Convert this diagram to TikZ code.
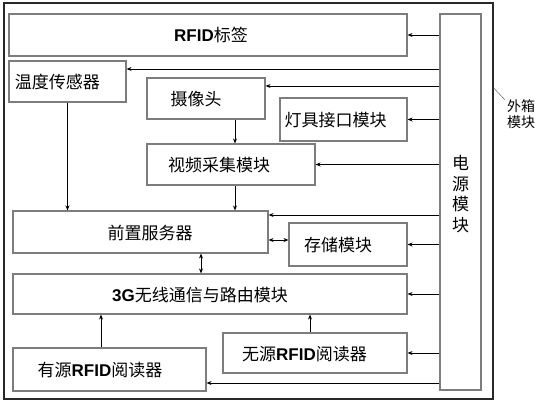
\documentclass[tikz,border=0pt]{standalone}
\usepackage{fontspec}
\setmainfont{Noto Sans CJK SC}
\newfontfamily\arb{Liberation Sans}
\usetikzlibrary{arrows.meta,fit}
\definecolor{boxgray}{RGB}{125,125,125}
\definecolor{casecol}{RGB}{40,40,40}
\begin{document}
\begin{tikzpicture}[x=1pt,y=-1pt,
  box/.style={draw=boxgray, line width=1.1pt, inner sep=0pt},
  casebox/.style={draw=casecol, line width=1.6pt, inner sep=0pt},
  arr/.style={-{Stealth[length=5pt,width=4pt]}, line width=0.9pt},
  darr/.style={{Stealth[length=5pt,width=4pt]}-{Stealth[length=5pt,width=4pt]}, line width=0.9pt},
  lbl/.style={font=\fontsize{17}{20}\selectfont, inner sep=0pt},
  vlbl/.style={font=\fontsize{17}{20.5}\selectfont, inner sep=0pt, align=center},
  slbl/.style={font=\fontsize{14}{16}\selectfont, inner sep=0pt, align=center}]
\fill[white] (0,0) rectangle (544,408);
\useasboundingbox (0,0) rectangle (544,408);

% boxes
\node[casebox, fit={(4,3) (493,399)}] (case) {};
\node[box, fit={(9,14) (407,56)}] (rfid) {};
\node[box, fit={(440,14) (481,390)}] (power) {};
\node[box, fit={(9,61) (126,102)}] (temp) {};
\node[box, fit={(147,78) (265,119)}] (cam) {};
\node[box, fit={(280,98) (407,141)}] (lamp) {};
\node[box, fit={(147,144) (315,185)}] (video) {};
\node[box, fit={(13,211) (268,253)}] (server) {};
\node[box, fit={(289,223) (407,266)}] (store) {};
\node[box, fit={(13,274) (407,314)}] (gthree) {};
\node[box, fit={(223,333) (407,373)}] (passive) {};
\node[box, fit={(13,348) (206,391)}] (active) {};

% texts
\node[lbl] (rfid-t) at (211,35) {{\arb\bfseries RFID}标签};
\node[lbl] (temp-t) at (57.5,82) {温度传感器};
\node[lbl] (cam-t) at (196,99) {摄像头};
\node[lbl] (lamp-t) at (335.5,120) {灯具接口模块};
\node[lbl] (video-t) at (219,165) {视频采集模块};
\node[lbl] (server-t) at (150,233) {前置服务器};
\node[lbl] (store-t) at (338,245) {存储模块};
\node[lbl] (gthree-t) at (200,295) {{\arb\bfseries 3G}无线通信与路由模块};
\node[lbl] (passive-t) at (304.5,354) {无源{\arb\bfseries RFID}阅读器};
\node[lbl] (active-t) at (100,370) {有源{\arb\bfseries RFID}阅读器};
\node[vlbl] (power-t) at (460.5,194) {电\\源\\模\\块};
\node[slbl] (case-t) at (521,114) {外箱\\模块};

% leader line
\coordinate (lead) at (505,100);
\draw[boxgray, line width=0.6pt] (case.east |- 0,88) -- (lead);

% helper coordinates
\coordinate (yTemp) at (0,69);
\coordinate (yCam) at (0,86);
\coordinate (yServ) at (0,215);
\coordinate (yAct) at (0,383);
\coordinate (yDbl) at (0,240);
\coordinate (xCam) at (235,0);
\coordinate (xDbl) at (201,0);
\coordinate (xPas) at (310,0);
\coordinate (xAct) at (101,0);

% power supply arrows
\draw[arr] (power.west |- rfid.east) -- (rfid.east);
\draw[arr] (power.west |- yTemp) -- (temp.east |- yTemp);
\draw[arr] (power.west |- yCam) -- (cam.east |- yCam);
\draw[arr] (power.west |- lamp.east) -- (lamp.east);
\draw[arr] (power.west |- video.east) -- (video.east);
\draw[arr] (power.west |- yServ) -- (server.east |- yServ);
\draw[arr] (power.west |- store.east) -- (store.east);
\draw[arr] (power.west |- gthree.east) -- (gthree.east);
\draw[arr] (power.west |- passive.east) -- (passive.east);
\draw[arr] (power.west |- yAct) -- (active.east |- yAct);

% data arrows
\draw[arr] (cam.south -| xCam) -- (video.north -| xCam);
\draw[arr] (temp.south) -- (temp.south |- server.north);
\draw[arr] (video.south -| xCam) -- (server.north -| xCam);
\draw[darr] (server.east |- yDbl) -- (store.west |- yDbl);
\draw[darr] (server.south -| xDbl) -- (gthree.north -| xDbl);
\draw[arr] (passive.north -| xPas) -- (gthree.south -| xPas);
\draw[arr] (active.north -| xAct) -- (gthree.south -| xAct);
\end{tikzpicture}
\end{document}
